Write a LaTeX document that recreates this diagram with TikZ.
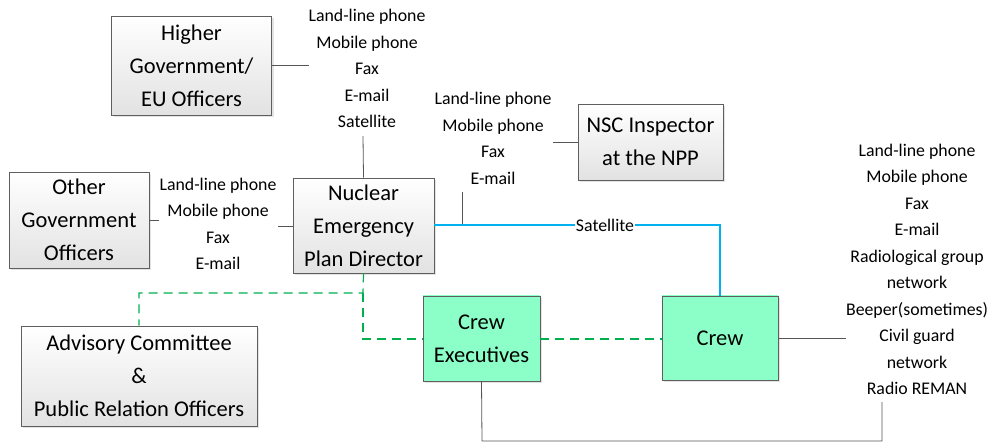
\documentclass[tikz,border=0pt]{standalone}
\usepackage{fontspec}
\setmainfont{Carlito}
\usetikzlibrary{shadows}
\definecolor{gline}{RGB}{0,176,80}
\definecolor{bline}{RGB}{0,176,240}
\definecolor{cline}{RGB}{85,85,85}
\definecolor{bdr}{RGB}{95,95,95}
\definecolor{mint}{RGB}{140,255,200}
\definecolor{boxbot}{RGB}{226,226,226}
\tikzset{
  box/.style={draw=bdr, line width=0.9pt, top color=white, bottom color=boxbot,
    align=center, inner sep=0pt, font=\fontsize{22.5}{33}\selectfont,
    drop shadow={opacity=0.22, shadow xshift=2pt, shadow yshift=-2pt}},
  greenbox/.style={box, top color=mint, bottom color=mint},
  lbl/.style={align=center, inner sep=0pt, font=\fontsize{17.8}{26.5}\selectfont},
  conn/.style={draw=cline, line width=0.8pt},
  sat/.style={draw=bline, line width=1.6pt},
  greendash/.style={draw=gline, line width=1.2pt, dash pattern=on 9pt off 6pt},
}
\begin{document}
\begin{tikzpicture}[x=1pt, y=-1pt]
\useasboundingbox (0,0) rectangle (992,443);
% boxes
\node[box, minimum width=160pt, minimum height=99pt] (hg) at (191.5,65.5) {Higher\\Government/\\EU Officers};
\node[box, minimum width=140pt, minimum height=96pt] (ogo) at (79,220) {Other\\Government\\Officers};
\node[box, minimum width=141pt, minimum height=95pt] (nepd) at (363.5,225.5) {Nuclear\\Emergency\\Plan Director};
\node[box, minimum width=145pt, minimum height=76pt] (nsc) at (650.5,142) {NSC Inspector\\at the NPP};
\node[box, minimum width=236pt, minimum height=100pt] (adv) at (139,376) {Advisory Committee\\\&\\Public Relation Officers};
\node[greenbox, minimum width=117pt, minimum height=85pt] (ce) at (481.5,338.5) {Crew\\Executives};
\node[greenbox, minimum width=116pt, minimum height=84pt] (crew) at (720,338) {Crew};
% label stacks
\node[lbl] (l1) at (367,68.5) {Land-line phone\\Mobile phone\\Fax\\E-mail\\Satellite};
\node[lbl] (l2) at (218,224) {Land-line phone\\Mobile phone\\Fax\\E-mail};
\node[lbl] (l3) at (493,138.5) {Land-line phone\\Mobile phone\\Fax\\E-mail};
\node[lbl] (l4) at (917,269.5) {Land-line phone\\Mobile phone\\Fax\\E-mail\\Radiological group\\network\\Beeper(sometimes)\\Civil guard\\network\\Radio REMAN};
% coordinates
\coordinate (a1) at (309,65);
\coordinate (a2) at (363,136);
\coordinate (b1) at (159,220);
\coordinate (b2) at (278,226);
\coordinate (c1) at (553,142);
\coordinate (c2) at (462,192);
\coordinate (c3) at (462,224.5);
\coordinate (d1) at (846,338);
\coordinate (d2) at (882,402);
\coordinate (d3) at (882,441);
\coordinate (d4) at (482,441);
\coordinate (s1) at (720,225);
\coordinate (g1) at (363,293);
\coordinate (g2) at (139,293);
\coordinate (g3) at (363,339);
% connectors
\draw[conn] (hg.east |- a1) -- (a1);
\draw[conn] (a2) -- (nepd.north);
\draw[conn] (ogo.east |- b1) -- (b1);
\draw[conn] (b2) -- (nepd.west |- b2);
\draw[conn] (c1) -- (nsc.west |- c1);
\draw[conn] (c2) -- (c3);
\draw[conn] (crew.east) -- (d1);
\draw[conn] (d2) -- (d3) -- (d4) -- (ce.south);
\draw[sat] (nepd.east |- s1) -- (s1) -- (crew.north);
\node[fill=white, inner sep=1pt, font=\fontsize{17.8}{20}\selectfont] (satl) at (605,225) {Satellite};
\draw[greendash] (nepd.south) -- (g1) -- (g2) -- (adv.north);
\draw[greendash] (g1) -- (g3) -- (ce.west |- g3);
\draw[greendash] (ce.east |- g3) -- (crew.west |- g3);
\end{tikzpicture}
\end{document}
